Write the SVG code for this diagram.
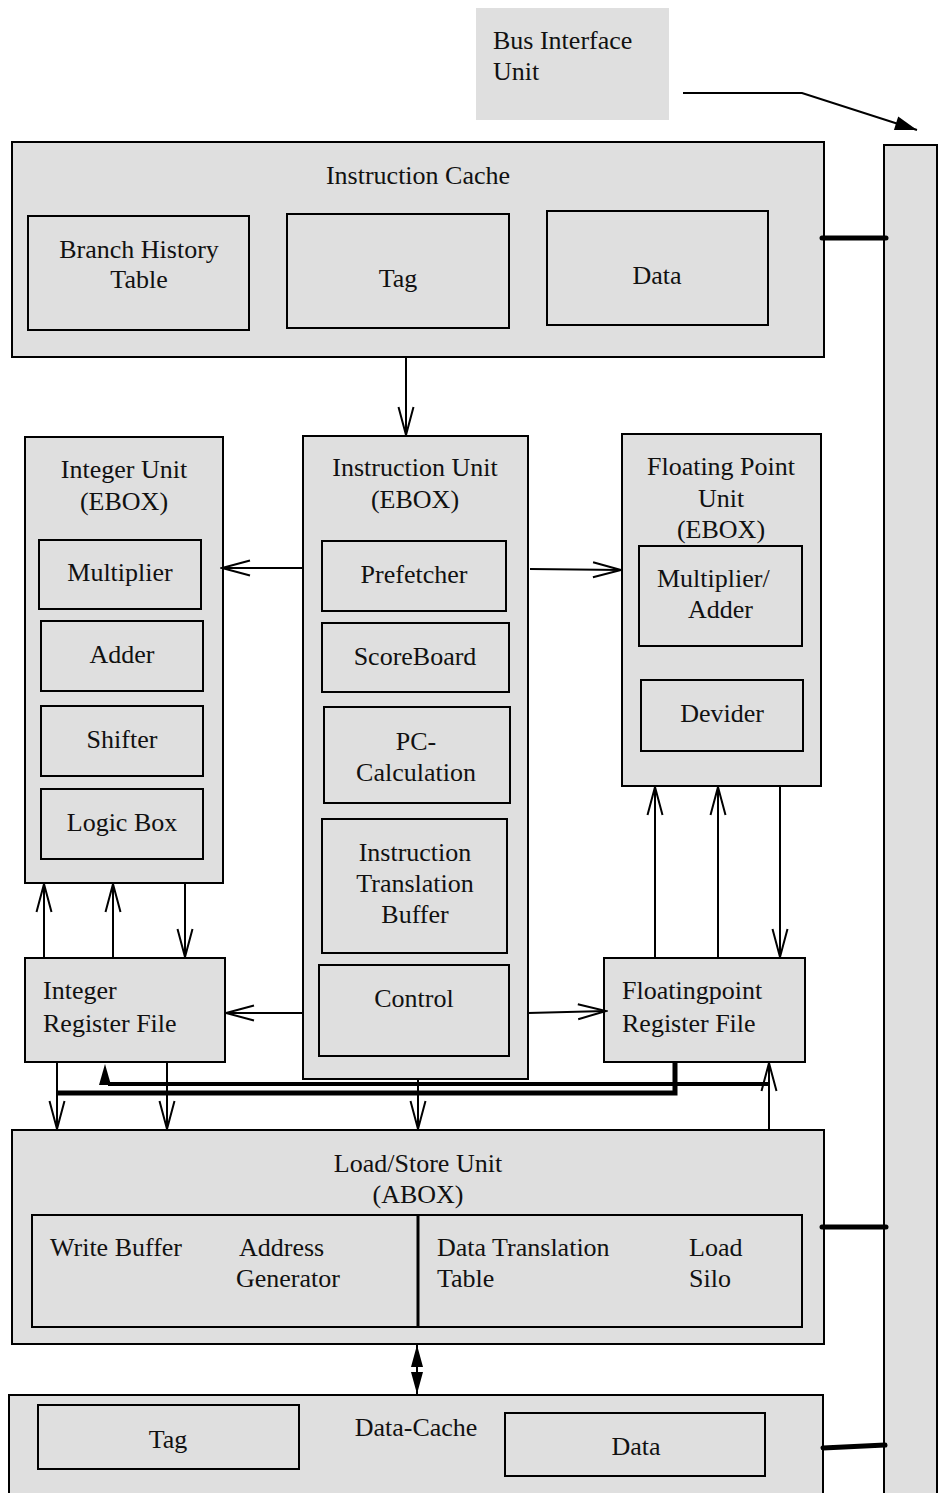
<svg xmlns="http://www.w3.org/2000/svg" width="939" height="1493" viewBox="0 0 939 1493">
<style>
.b{fill:#dfdfdf;stroke:#000;stroke-width:2}
.t{font-family:'Liberation Serif','DejaVu Serif','Times New Roman',serif;font-size:26px;fill:#111}
.c{text-anchor:middle}
.w{fill:none;stroke:#000;stroke-width:2}
</style>
<defs>
<marker id="oa" viewBox="-30 -9 32 18" refX="0" refY="0" markerWidth="32" markerHeight="18" markerUnits="userSpaceOnUse" orient="auto">
<path d="M-28,-7.5 L0,0 L-28,7.5" fill="none" stroke="#000" stroke-width="2"/>
</marker>
<marker id="fa" viewBox="-24 -8 26 16" refX="0" refY="0" markerWidth="26" markerHeight="16" markerUnits="userSpaceOnUse" orient="auto">
<path d="M-22,-7 L0,0 L-22,7 Z" fill="#000"/>
</marker>
<marker id="fs" viewBox="-24 -7 26 14" refX="0" refY="0" markerWidth="26" markerHeight="14" markerUnits="userSpaceOnUse" orient="auto">
<path d="M-22,-6 L0,0 L-22,6 Z" fill="#000"/>
</marker>
</defs>

<g id="bus-interface">
<rect x="476" y="8" width="193" height="112" fill="#dfdfdf"/>
<text class="t" x="493" y="49" font-family="Liberation Serif, serif">Bus Interface</text>
<text class="t" x="493" y="80">Unit</text>
</g>

<g id="bus">
<rect class="b" x="884" y="145" width="53" height="1350"/>
</g>

<g id="instruction-cache">
<rect class="b" x="12" y="142" width="812" height="215"/>
<text class="t c" x="418" y="184">Instruction Cache</text>
<rect class="b" x="28" y="216" width="221" height="114"/>
<text class="t c" x="139" y="258">Branch History</text>
<text class="t c" x="139" y="288">Table</text>
<rect class="b" x="287" y="214" width="222" height="114"/>
<text class="t c" x="398" y="287">Tag</text>
<rect class="b" x="547" y="211" width="221" height="114"/>
<text class="t c" x="657" y="284">Data</text>
</g>

<g id="integer-unit">
<rect class="b" x="25" y="437" width="198" height="446"/>
<text class="t c" x="124" y="478">Integer Unit</text>
<text class="t c" x="124" y="510">(EBOX)</text>
<rect class="b" x="39" y="540" width="162" height="69"/>
<text class="t c" x="120" y="581">Multiplier</text>
<rect class="b" x="41" y="621" width="162" height="70"/>
<text class="t c" x="122" y="663">Adder</text>
<rect class="b" x="41" y="706" width="162" height="70"/>
<text class="t c" x="122" y="748">Shifter</text>
<rect class="b" x="41" y="789" width="162" height="70"/>
<text class="t c" x="122" y="831">Logic Box</text>
</g>

<g id="instruction-unit">
<rect class="b" x="303" y="436" width="225" height="643"/>
<text class="t c" x="415" y="476">Instruction Unit</text>
<text class="t c" x="415" y="508">(EBOX)</text>
<rect class="b" x="322" y="541" width="184" height="70"/>
<text class="t c" x="414" y="583">Prefetcher</text>
<rect class="b" x="322" y="623" width="187" height="69"/>
<text class="t c" x="415" y="665">ScoreBoard</text>
<rect class="b" x="324" y="707" width="186" height="96"/>
<text class="t c" x="416" y="750">PC-</text>
<text class="t c" x="416" y="781">Calculation</text>
<rect class="b" x="322" y="819" width="185" height="134"/>
<text class="t c" x="415" y="861">Instruction</text>
<text class="t c" x="415" y="892">Translation</text>
<text class="t c" x="415" y="923">Buffer</text>
<rect class="b" x="319" y="965" width="190" height="91"/>
<text class="t c" x="414" y="1007">Control</text>
</g>

<g id="floating-point-unit">
<rect class="b" x="622" y="434" width="199" height="352"/>
<text class="t c" x="721" y="475">Floating Point</text>
<text class="t c" x="721" y="507">Unit</text>
<text class="t c" x="721" y="538">(EBOX)</text>
<rect class="b" x="639" y="546" width="163" height="100"/>
<text class="t" x="657" y="587">Multiplier/</text>
<text class="t" x="688" y="618">Adder</text>
<rect class="b" x="641" y="680" width="162" height="71"/>
<text class="t c" x="722" y="722">Devider</text>
</g>

<g id="integer-register-file">
<rect class="b" x="25" y="958" width="200" height="104"/>
<text class="t" x="43" y="999">Integer</text>
<text class="t" x="43" y="1032">Register File</text>
</g>

<g id="fp-register-file">
<rect class="b" x="604" y="958" width="201" height="104"/>
<text class="t" x="622" y="999">Floatingpoint</text>
<text class="t" x="622" y="1032">Register File</text>
</g>

<g id="load-store-unit">
<rect class="b" x="12" y="1130" width="812" height="214"/>
<text class="t c" x="418" y="1172">Load/Store Unit</text>
<text class="t c" x="418" y="1203">(ABOX)</text>
<rect class="b" x="32" y="1215" width="770" height="112"/>
<line x1="418" y1="1215" x2="418" y2="1327" stroke="#000" stroke-width="3"/>
<text class="t" x="50" y="1256">Write Buffer</text>
<text class="t" x="239" y="1256">Address</text>
<text class="t" x="236" y="1287">Generator</text>
<text class="t" x="437" y="1256">Data Translation</text>
<text class="t" x="437" y="1287">Table</text>
<text class="t" x="689" y="1256">Load</text>
<text class="t" x="689" y="1287">Silo</text>
</g>

<g id="data-cache">
<rect class="b" x="9" y="1395" width="814" height="100"/>
<rect class="b" x="38" y="1405" width="261" height="64"/>
<text class="t c" x="168" y="1448">Tag</text>
<text class="t c" x="416" y="1436">Data-Cache</text>
<rect class="b" x="505" y="1413" width="260" height="63"/>
<text class="t c" x="636" y="1455">Data</text>
</g>

<g id="connectors">
<polyline class="w" points="683,93 802,93 917,130" marker-end="url(#fa)"/>
<line x1="822" y1="238" x2="886" y2="238" stroke="#000" stroke-width="5" stroke-linecap="round"/>
<line x1="822" y1="1227" x2="886" y2="1227" stroke="#000" stroke-width="5" stroke-linecap="round"/>
<line x1="823" y1="1448" x2="885" y2="1445" stroke="#000" stroke-width="5" stroke-linecap="round"/>
<line class="w" x1="406" y1="357" x2="406" y2="435" marker-end="url(#oa)"/>
<line class="w" x1="303" y1="568" x2="222" y2="568" marker-end="url(#oa)"/>
<line class="w" x1="530" y1="569" x2="621" y2="570" marker-end="url(#oa)"/>
<line class="w" x1="44" y1="958" x2="44" y2="884" marker-end="url(#oa)"/>
<line class="w" x1="113" y1="958" x2="113" y2="884" marker-end="url(#oa)"/>
<line class="w" x1="185" y1="883" x2="185" y2="957" marker-end="url(#oa)"/>
<line class="w" x1="304" y1="1013" x2="226" y2="1013" marker-end="url(#oa)"/>
<line class="w" x1="528" y1="1013" x2="606" y2="1011" marker-end="url(#oa)"/>
<line class="w" x1="655" y1="958" x2="655" y2="787" marker-end="url(#oa)"/>
<line class="w" x1="718" y1="958" x2="718" y2="787" marker-end="url(#oa)"/>
<line class="w" x1="780" y1="786" x2="780" y2="957" marker-end="url(#oa)"/>
<line class="w" x1="57" y1="1062" x2="57" y2="1129" marker-end="url(#oa)"/>
<line class="w" x1="167" y1="1062" x2="167" y2="1129" marker-end="url(#oa)"/>
<line class="w" x1="418" y1="1079" x2="418" y2="1129" marker-end="url(#oa)"/>
<line class="w" x1="769" y1="1130" x2="769" y2="1063" marker-end="url(#oa)"/>
<line x1="108" y1="1084" x2="769" y2="1084" stroke="#000" stroke-width="4"/>
<polygon points="99,1085 111,1085 105,1064" fill="#000"/>
<polyline points="57,1093 675,1093 675,1062" fill="none" stroke="#000" stroke-width="5"/>
<line x1="417" y1="1362" x2="417" y2="1378" stroke="#000" stroke-width="2"/>
<line x1="417" y1="1370" x2="417" y2="1345" stroke="#000" stroke-width="2" marker-end="url(#fs)"/>
<line x1="417" y1="1370" x2="417" y2="1394" stroke="#000" stroke-width="2" marker-end="url(#fs)"/>
</g>
</svg>
